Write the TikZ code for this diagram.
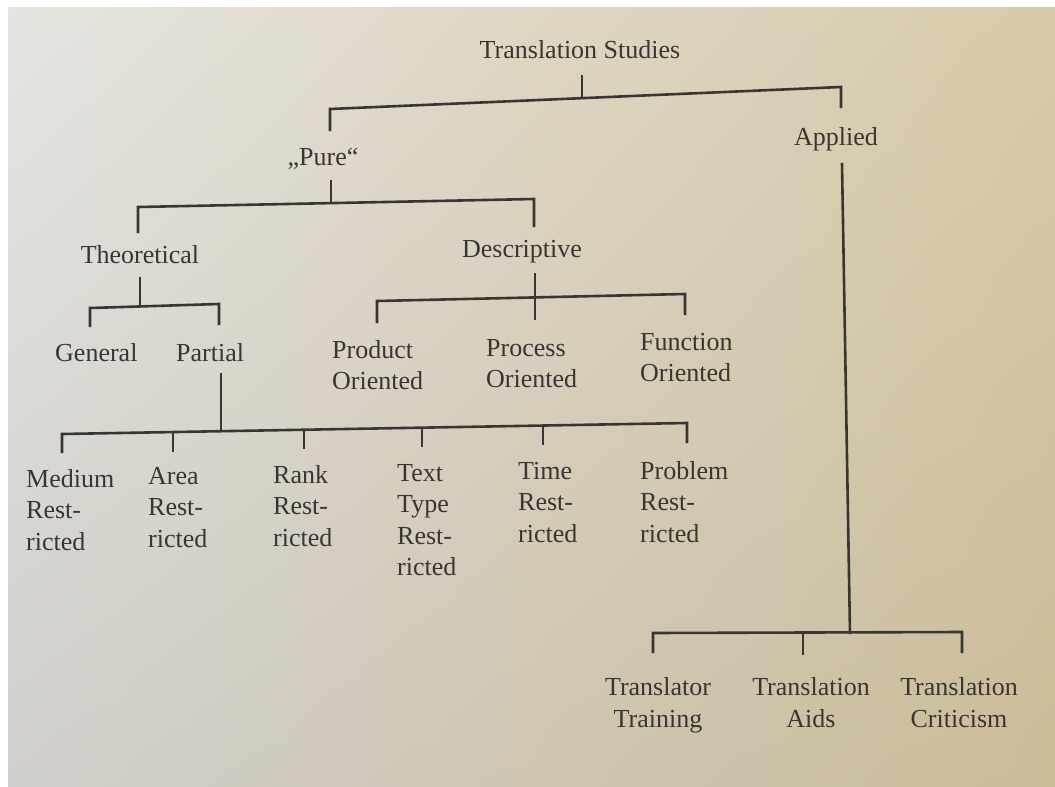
\documentclass[tikz,border=0pt]{standalone}
\usepackage{fontspec}
\setmainfont{Liberation Serif}
\usetikzlibrary{shadings}
\definecolor{ink}{RGB}{56,54,52}
\definecolor{pUL}{RGB}{229,228,224}
\definecolor{pUR}{RGB}{216,202,168}
\definecolor{pLL}{RGB}{209,207,204}
\definecolor{pLR}{RGB}{203,188,152}
\tikzset{
  lbl/.style={inner sep=0pt, text=ink, font=\fontsize{26}{31.5}\selectfont},
  lblL/.style={lbl, align=left, anchor=north west},
  lblC/.style={lbl, align=center, anchor=north, font=\fontsize{26}{32}\selectfont},
  branch/.style={draw=ink, line width=2.6pt, line join=miter}
}
\begin{document}
\begin{tikzpicture}[x=1pt,y=-1pt]
\useasboundingbox (0,0) rectangle (1055,787);
\fill[white] (0,0) rectangle (1055,787);
\shade[upper left=pUL, upper right=pUR, lower left=pLL, lower right=pLR] (8,7) rectangle (1055,787);

% ---------- nodes ----------
\node[lbl, anchor=base] (ts) at (580,58) {Translation Studies};
\node[lbl, anchor=base] (pure) at (323,165) {„Pure“};
\node[lbl, anchor=base] (appl) at (836,145) {Applied};
\node[lbl, anchor=base] (theo) at (140,263) {Theoretical};
\node[lbl, anchor=base] (desc) at (522,257) {Descriptive};
\node[lbl, anchor=base west] (gen) at (55,361) {General};
\node[lbl, anchor=base west] (part) at (176,361) {Partial};
\node[lblL] (prod) at (332,340) {Product\\Oriented};
\node[lblL] (proc) at (486,339) {Process\\Oriented};
\node[lblL] (func) at (640,333) {Function\\Oriented};
\node[lblL] (med) at (26,469) {Medium\\Rest-\\ricted};
\node[lblL] (area) at (148,467) {Area\\Rest-\\ricted};
\node[lblL] (rank) at (273,465) {Rank\\Rest-\\ricted};
\node[lblL] (text) at (397,464) {Text\\Type\\Rest-\\ricted};
\node[lblL] (time) at (518,462) {Time\\Rest-\\ricted};
\node[lblL] (prob) at (640,461) {Problem\\Rest-\\ricted};
\node[lblC] (ttr) at (658,677) {Translator\\Training};
\node[lblC] (tai) at (811,677) {Translation\\Aids};
\node[lblC] (tcr) at (959,677) {Translation\\Criticism};

% ---------- connector points ----------
\coordinate (tsS) at (582,75);   \coordinate (tsJ) at (582,99);
\coordinate (tbL) at (330,109);  \coordinate (tbR) at (841,87);
\coordinate (pureN) at (330,131); \coordinate (applN) at (841,108);

\coordinate (pureS) at (331,180); \coordinate (pureJ) at (331,204);
\coordinate (pbL) at (138,207);  \coordinate (pbR) at (534,199);
\coordinate (theoN) at (138,233); \coordinate (descN) at (534,227);

\coordinate (theoS) at (140,277); \coordinate (theoJ) at (140,307);
\coordinate (thL) at (90,308);   \coordinate (thR) at (219,304);
\coordinate (genN) at (90,327);  \coordinate (partN) at (219,325);

\coordinate (descS) at (535,273); \coordinate (procN) at (535,320);
\coordinate (dbL) at (377,301);  \coordinate (dbR) at (685,294);
\coordinate (prodN) at (377,323); \coordinate (funcN) at (685,315);

\coordinate (partS) at (221,373); \coordinate (partJ) at (221,432);
\coordinate (rbL) at (62,434);   \coordinate (rbR) at (687,423);
\coordinate (medN) at (62,453);  \coordinate (probN) at (687,443);
\coordinate (areaJ) at (173,432);  \coordinate (areaN) at (173,452);
\coordinate (rankJ) at (304,429.7); \coordinate (rankN) at (304,449);
\coordinate (textJ) at (422,427.7); \coordinate (textN) at (422,447);
\coordinate (timeJ) at (543,425.5); \coordinate (timeN) at (543,445);

\coordinate (applS) at (842,163); \coordinate (applJ) at (850,634);
\coordinate (abL) at (653,633);  \coordinate (abR) at (962,632);
\coordinate (ttrN) at (653,653); \coordinate (tcrN) at (962,653);
\coordinate (taiJ) at (803,632.5); \coordinate (taiN) at (803,655);

% ---------- connectors ----------
\draw[branch] (tsS) -- (tsJ);
\draw[branch] (pureN) -- (tbL) -- (tbR) -- (applN);

\draw[branch] (pureS) -- (pureJ);
\draw[branch] (theoN) -- (pbL) -- (pbR) -- (descN);

\draw[branch] (theoS) -- (theoJ);
\draw[branch] (genN) -- (thL) -- (thR) -- (partN);

\draw[branch] (descS) -- (procN);
\draw[branch] (prodN) -- (dbL) -- (dbR) -- (funcN);

\draw[branch] (partS) -- (partJ);
\draw[branch] (medN) -- (rbL) -- (rbR) -- (probN);
\draw[branch] (areaJ) -- (areaN);
\draw[branch] (rankJ) -- (rankN);
\draw[branch] (textJ) -- (textN);
\draw[branch] (timeJ) -- (timeN);

\draw[branch] (applS) -- (applJ);
\draw[branch] (ttrN) -- (abL) -- (abR) -- (tcrN);
\draw[branch] (taiJ) -- (taiN);
\end{tikzpicture}
\end{document}
